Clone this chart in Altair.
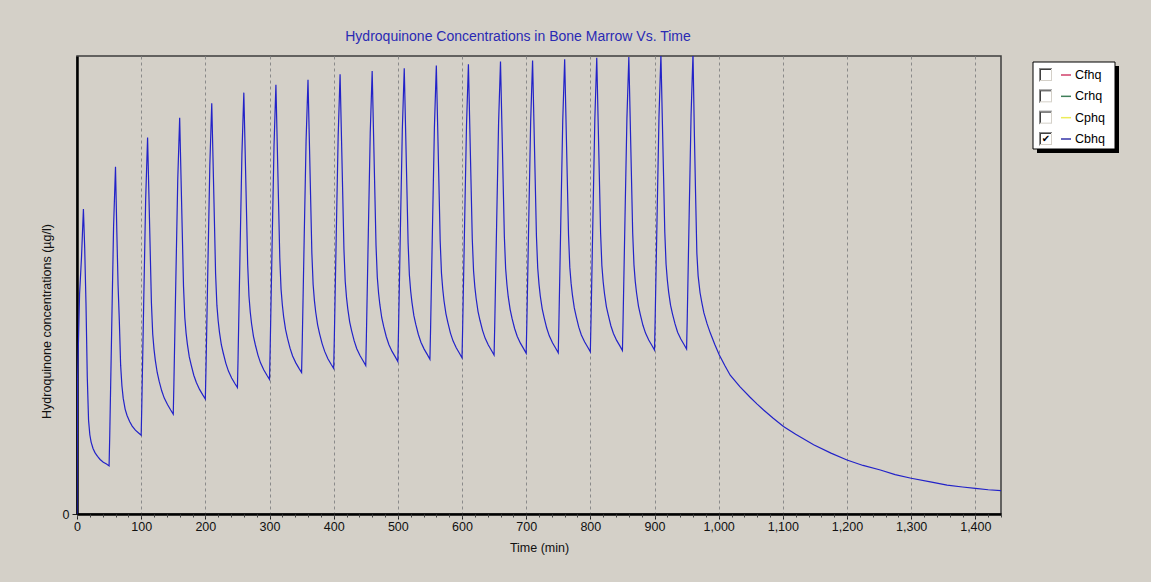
import altair as alt
import pandas as pd

# Simulated hydroquinone concentration in bone marrow: one dose every 50 min
# from 0 to 950 min, then washout to 1440 min. Values in plot units (0-100).
cycle_times = [
    [0, 1, 4, 7, 10, 12, 14, 16, 18, 20, 22, 25, 28, 32, 36, 41, 46],
    [50, 51, 54, 57, 60, 62, 64, 66, 68, 70, 72, 75, 78, 82, 86, 91, 96],
    [100, 101, 104, 107, 110, 112, 114, 116, 118, 120, 122, 125, 128, 132, 136, 141, 146],
    [150, 151, 154, 157, 160, 162, 164, 166, 168, 170, 172, 175, 178, 182, 186, 191, 196],
    [200, 201, 204, 207, 210, 212, 214, 216, 218, 220, 222, 225, 228, 232, 236, 241, 246],
    [250, 251, 254, 257, 260, 262, 264, 266, 268, 270, 272, 275, 278, 282, 286, 291, 296],
    [300, 301, 304, 307, 310, 312, 314, 316, 318, 320, 322, 325, 328, 332, 336, 341, 346],
    [350, 351, 354, 357, 360, 362, 364, 366, 368, 370, 372, 375, 378, 382, 386, 391, 396],
    [400, 401, 404, 407, 410, 412, 414, 416, 418, 420, 422, 425, 428, 432, 436, 441, 446],
    [450, 451, 454, 457, 460, 462, 464, 466, 468, 470, 472, 475, 478, 482, 486, 491, 496],
    [500, 501, 504, 507, 510, 512, 514, 516, 518, 520, 522, 525, 528, 532, 536, 541, 546],
    [550, 551, 554, 557, 560, 562, 564, 566, 568, 570, 572, 575, 578, 582, 586, 591, 596],
    [600, 601, 604, 607, 610, 612, 614, 616, 618, 620, 622, 625, 628, 632, 636, 641, 646],
    [650, 651, 654, 657, 660, 662, 664, 666, 668, 670, 672, 675, 678, 682, 686, 691, 696],
    [700, 701, 704, 707, 710, 712, 714, 716, 718, 720, 722, 725, 728, 732, 736, 741, 746],
    [750, 751, 754, 757, 760, 762, 764, 766, 768, 770, 772, 775, 778, 782, 786, 791, 796],
    [800, 801, 804, 807, 810, 812, 814, 816, 818, 820, 822, 825, 828, 832, 836, 841, 846],
    [850, 851, 854, 857, 860, 862, 864, 866, 868, 870, 872, 875, 878, 882, 886, 891, 896],
    [900, 901, 904, 907, 910, 912, 914, 916, 918, 920, 922, 925, 928, 932, 936, 941, 946],
    [950, 951, 954, 957, 960, 962, 964, 966, 968, 971, 974, 977, 982, 987, 994, 1001,
     1010, 1018, 1033, 1049, 1060, 1070, 1085, 1101, 1120, 1148, 1175, 1200, 1225,
     1252, 1275, 1300, 1330, 1356, 1380, 1400, 1420, 1440],
]
cycle_values = [
    [0.0, 30.0, 48.0, 56.0, 66.6, 58.0, 46.0, 30.0, 20.5, 17.3, 15.7, 14.3, 13.4, 12.6, 11.9, 11.3, 10.9],
    [10.5, 17.0, 39.9, 62.7, 75.8, 62.0, 50.0, 42.0, 32.5, 28.0, 25.3, 22.9, 21.5, 20.2, 19.2, 18.3, 17.7],
    [17.2, 23.7, 46.5, 68.6, 82.2, 70.1, 58.0, 46.0, 39.3, 36.0, 33.6, 30.9, 29.0, 26.9, 25.3, 23.9, 22.7],
    [21.8, 28.3, 50.9, 72.9, 86.5, 74.2, 61.9, 49.7, 42.9, 39.5, 37.1, 34.3, 32.5, 30.3, 28.7, 27.2, 26.0],
    [25.1, 31.6, 54.2, 76.1, 89.7, 77.3, 64.9, 52.4, 45.6, 42.2, 39.7, 36.9, 35.1, 32.9, 31.2, 29.7, 28.5],
    [27.6, 34.0, 56.6, 78.5, 92.0, 79.5, 67.0, 54.4, 47.6, 44.1, 41.6, 38.8, 36.9, 34.7, 33.0, 31.5, 30.3],
    [29.4, 35.8, 58.3, 80.2, 93.7, 81.1, 68.6, 56.0, 49.1, 45.7, 43.1, 40.3, 38.4, 36.2, 34.5, 33.0, 31.8],
    [30.9, 37.3, 59.7, 81.4, 94.8, 82.2, 69.6, 57.0, 50.1, 46.6, 44.1, 41.3, 39.4, 37.2, 35.5, 33.9, 32.7],
    [31.8, 38.2, 60.7, 82.5, 96.0, 83.3, 70.6, 57.8, 50.8, 47.3, 44.8, 41.9, 40.0, 37.8, 36.1, 34.6, 33.4],
    [32.4, 38.8, 61.3, 83.2, 96.7, 84.0, 71.3, 58.7, 51.7, 48.2, 45.7, 42.8, 40.9, 38.7, 37.0, 35.5, 34.3],
    [33.3, 39.7, 62.1, 83.9, 97.3, 84.6, 71.9, 59.2, 52.2, 48.7, 46.2, 43.3, 41.4, 39.2, 37.5, 36.0, 34.8],
    [33.8, 40.2, 62.6, 84.4, 97.9, 85.1, 72.4, 59.6, 52.6, 49.1, 46.5, 43.7, 41.8, 39.5, 37.8, 36.3, 35.1],
    [34.1, 40.5, 62.9, 84.7, 98.2, 85.5, 72.8, 60.1, 53.1, 49.6, 47.1, 44.2, 42.3, 40.1, 38.4, 36.9, 35.7],
    [34.7, 41.1, 63.5, 85.3, 98.8, 86.1, 73.3, 60.6, 53.6, 50.1, 47.5, 44.7, 42.7, 40.5, 38.8, 37.3, 36.1],
    [35.1, 41.5, 63.9, 85.6, 99.0, 86.2, 73.5, 60.7, 53.7, 50.2, 47.6, 44.8, 42.9, 40.6, 38.9, 37.4, 36.2],
    [35.2, 41.6, 64.0, 85.8, 99.3, 86.5, 73.7, 61.0, 53.9, 50.4, 47.9, 45.0, 43.1, 40.8, 39.1, 37.6, 36.4],
    [35.4, 41.8, 64.3, 86.1, 99.6, 86.8, 74.0, 61.3, 54.2, 50.7, 48.2, 45.3, 43.4, 41.1, 39.4, 37.9, 36.7],
    [35.7, 42.1, 64.5, 86.3, 99.8, 87.0, 74.2, 61.4, 54.4, 50.8, 48.3, 45.4, 43.5, 41.2, 39.5, 38.0, 36.8],
    [35.8, 42.3, 64.8, 86.8, 100.3, 87.4, 74.6, 61.7, 54.6, 51.1, 48.5, 45.6, 43.7, 41.5, 39.7, 38.2, 37.0],
    [36.0, 42.5, 65.1, 87.1, 100.6, 84.0, 70.0, 57.0, 52.0, 48.3, 46.0, 43.9, 41.5, 39.5, 37.0, 34.7,
     32.3, 30.3, 27.8, 25.5, 24.0, 22.7, 20.9, 19.1, 17.4, 15.1, 13.3, 11.8, 10.6,
     9.6, 8.6, 7.8, 7.0, 6.3, 5.9, 5.6, 5.3, 5.1],
]

x_major_ticks = [0, 100, 200, 300, 400, 500, 600, 700, 800, 900, 1000, 1100, 1200, 1300, 1400]
x_minor_ticks = list(range(0, 1441, 20))

series_names = ["Cfhq", "Crhq", "Cphq", "Cbhq"]
series_colors = ["#d0406a", "#3f7f5a", "#ecec5a", "#3434a8"]
series_checked = [False, False, False, True]

FONT = "Liberation Sans"
BG = "#d4d0c8"
LINE_BLUE = "#2222c8"

rows = []
for ts, vs in zip(cycle_times, cycle_values):
    for t, v in zip(ts, vs):
        rows.append({"t": t, "v": v})
conc = pd.DataFrame(rows)

legend_df = pd.DataFrame({
    "row": list(range(len(series_names))),
    "name": series_names,
    "color": series_colors,
    "checked": series_checked,
})
one = pd.DataFrame({"k": [0]})

x_scale = alt.Scale(domain=[0, 1440], nice=False, zero=False)
y_scale = alt.Scale(domain=[0, 100], nice=False)
row_scale = alt.Scale(domain=[0, 3], range=[19, 83])

line = alt.Chart(conc).mark_line(color=LINE_BLUE, strokeWidth=1.2, clip=True).encode(
    x=alt.X("t:Q", scale=x_scale, axis=alt.Axis(
        values=x_major_ticks, format=",d", orient="bottom", labelFlush=False,
        title="Time (min)", titleFont=FONT, titleFontSize=12.5, titleFontWeight="normal",
        titleColor="#111", titleY=27, titleBaseline="top",
        labelFont=FONT, labelFontSize=12.5, labelColor="#111", labelPadding=1,
        tickSize=5, tickColor="#222", tickWidth=1,
        domainColor="black", domainWidth=2.5,
        grid=True, gridDash=[3, 3], gridColor="#8a8a8a", gridWidth=1,
    )),
    y=alt.Y("v:Q", scale=y_scale, axis=alt.Axis(
        values=[0], orient="left", labelFlush=False,
        title="Hydroquinone concentrations (µg/l)", titleFont=FONT, titleFontSize=12.5,
        titleFontWeight="normal", titleColor="#111", titleX=-31, titleY=265,
        titleBaseline="middle", titleAngle=270,
        labelFont=FONT, labelFontSize=12.5, labelColor="#111", labelPadding=3,
        tickSize=5, tickColor="#222", domainColor="black", domainWidth=2.5, grid=False,
    )),
)

minor = alt.Chart(pd.DataFrame({"t": x_minor_ticks})).mark_rule(opacity=0).encode(
    x=alt.X("t:Q", scale=x_scale, axis=alt.Axis(
        values=x_minor_ticks, orient="bottom", labels=False, title=None,
        tickSize=3, tickColor="#444", domain=False, grid=False,
    )),
)

# Legend panel with check boxes, drawn to the right of the plot
shadow = alt.Chart(one).mark_rect(color="black").encode(
    x=alt.value(960), x2=alt.value(1042), y=alt.value(10), y2=alt.value(97))
box = alt.Chart(one).mark_rect(fill="white", stroke="black", strokeWidth=1).encode(
    x=alt.value(956), x2=alt.value(1038), y=alt.value(6), y2=alt.value(93))

leg = alt.Chart(legend_df)
ry = alt.Y("row:Q", scale=row_scale, axis=None)
ry2 = alt.Y2("row:Q")
chk_top_outer = leg.mark_rule(color="#8a8a8a", strokeWidth=1, yOffset=-6.5).encode(
    x=alt.value(962), x2=alt.value(975), y=ry)
chk_left_outer = leg.mark_rule(color="#8a8a8a", strokeWidth=1, yOffset=-6.5, y2Offset=6.5).encode(
    x=alt.value(962.5), y=ry, y2=ry2)
chk_top_inner = leg.mark_rule(color="#404040", strokeWidth=1, yOffset=-5.5).encode(
    x=alt.value(963), x2=alt.value(974), y=ry)
chk_left_inner = leg.mark_rule(color="#404040", strokeWidth=1, yOffset=-5.5, y2Offset=5.5).encode(
    x=alt.value(963.5), y=ry, y2=ry2)
chk_bot = leg.mark_rule(color="#d4d0c8", strokeWidth=1, yOffset=5.5).encode(
    x=alt.value(963), x2=alt.value(975), y=ry)
chk_right = leg.mark_rule(color="#d4d0c8", strokeWidth=1, yOffset=-5.5, y2Offset=5.5).encode(
    x=alt.value(974.5), y=ry, y2=ry2)
checkmark = leg.transform_filter("datum.checked").mark_text(
    text="✔", font="DejaVu Sans", fontSize=10, color="black", align="center", baseline="middle"
).encode(x=alt.value(969), y=ry)
swatch = leg.mark_rule(strokeWidth=1.5).encode(
    x=alt.value(984), x2=alt.value(994), y=ry, color=alt.Color("color:N", scale=None))
labels = leg.mark_text(font=FONT, fontSize=12.5, color="black", align="left", baseline="middle").encode(
    x=alt.value(998), y=ry, text="name:N")

chart = alt.layer(
    line, minor,
    shadow, box,
    chk_top_outer, chk_left_outer, chk_top_inner, chk_left_inner, chk_bot, chk_right,
    checkmark, swatch, labels,
).resolve_scale(y="independent").resolve_axis(x="independent").properties(
    width=924,
    height=458,
    autosize=alt.AutoSizeParams(type="none"),
    padding={"left": 77, "top": 56, "right": 150, "bottom": 68},
    title=alt.TitleParams(
        "Hydroquinone Concentrations in Bone Marrow Vs. Time",
        font=FONT, fontSize=14, fontWeight="normal", color="#2a2ab4",
        anchor="middle", dx=-21, offset=12,
    ),
).configure(background=BG).configure_view(fill=BG, stroke="#3c3c3c", strokeWidth=1.5)

chart.save("out.html", embed_options={"renderer": "svg", "actions": False})
